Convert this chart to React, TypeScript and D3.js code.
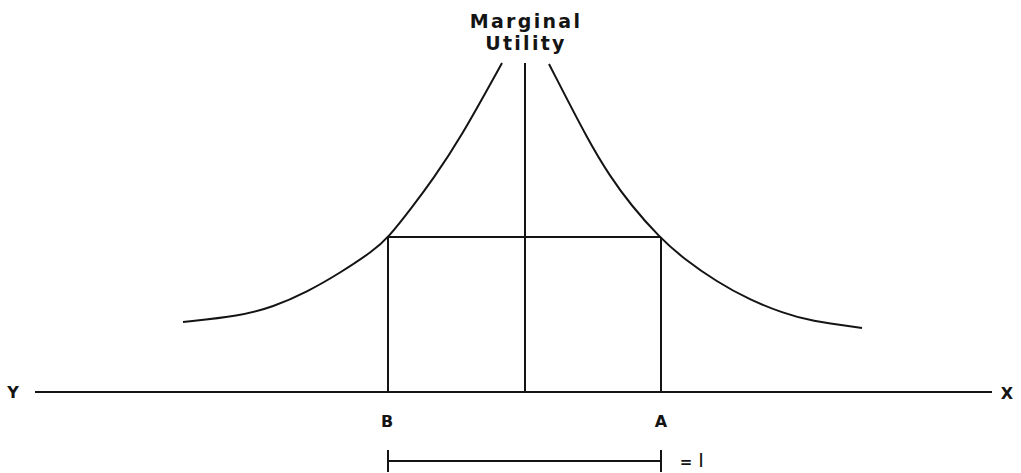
import React from "react";
import * as d3 from "d3";

// Data (x: quantity offset from centre, y: marginal utility)
const leftX = [-34.2, -28.5, -25.2, -21.8, -18.5, -15.2, -13.7, -11.2, -9.2, -6.5, -2.3];
const leftY = [7.0, 7.6, 8.5, 10.0, 11.9, 14.1, 15.4, 18.6, 21.3, 25.3, 32.9];
const rightX = [2.4, 6.5, 8.5, 10.5, 13.5, 15.8, 19.2, 22.5, 25.8, 28.5, 33.7];
const rightY = [32.8, 24.8, 21.6, 18.8, 15.4, 13.4, 11.0, 9.2, 7.9, 7.1, 6.4];
const pointB = -13.7;
const pointA = 13.6;
const levelU = 15.5;
const axisTop = 32.9;
const axisExtent = [-49, 46.7];
const axisLabels = ["Y", "X"];
const pointLabels = ["B", "A"];
const titleLines = ["Marginal", "Utility"];
const unitLabel = ["=", "I"];

export default function App() {
  const W = 1021, H = 473;
  const x = d3.scaleLinear().domain([-35, 35]).range([175, 875]);
  const y = d3.scaleLinear().domain([0, 35]).range([392, 42]);
  const line = d3
    .line<[number, number]>()
    .x((d) => x(d[0]))
    .y((d) => y(d[1]))
    .curve(d3.curveBasis);
  const leftPts = leftX.map((v, i) => [v, leftY[i]] as [number, number]);
  const rightPts = rightX.map((v, i) => [v, rightY[i]] as [number, number]);
  const stroke = "#141414";
  const sw = 2;
  const font = "'DejaVu Sans', sans-serif";
  const bracketY = 461;
  return (
    <svg
      width={W}
      height={H}
      style={{ position: "absolute", left: 0, top: 0, background: "#fff" }}
    >
      <g fill="none" stroke={stroke} strokeWidth={sw}>
        <path d={line(leftPts) || ""} />
        <path d={line(rightPts) || ""} />
        <line x1={x(axisExtent[0])} x2={x(axisExtent[1])} y1={y(0)} y2={y(0)} />
        <line x1={x(0)} x2={x(0)} y1={y(0)} y2={y(axisTop)} />
        <line x1={x(pointB)} x2={x(pointA)} y1={y(levelU)} y2={y(levelU)} />
        <line x1={x(pointB)} x2={x(pointB)} y1={y(levelU)} y2={y(0)} />
        <line x1={x(pointA)} x2={x(pointA)} y1={y(levelU)} y2={y(0)} />
        <line x1={x(pointB)} x2={x(pointA)} y1={bracketY} y2={bracketY} />
        <line x1={x(pointB)} x2={x(pointB)} y1={bracketY - 11} y2={bracketY + 11} />
        <line x1={x(pointA)} x2={x(pointA)} y1={bracketY - 11} y2={bracketY + 11} />
      </g>
      <g fill={stroke} fontFamily={font} fontWeight="bold">
        <text x={x(0) + 1} y={28} textAnchor="middle" fontSize={19} letterSpacing={2.3}>
          {titleLines[0]}
        </text>
        <text x={x(0) + 1} y={50} textAnchor="middle" fontSize={19} letterSpacing={2.3}>
          {titleLines[1]}
        </text>
        <text x={13} y={398} textAnchor="middle" fontSize={16}>
          {axisLabels[0]}
        </text>
        <text x={1007} y={399} textAnchor="middle" fontSize={16}>
          {axisLabels[1]}
        </text>
        <text x={x(pointB) - 1} y={427} textAnchor="middle" fontSize={16}>
          {pointLabels[0]}
        </text>
        <text x={x(pointA)} y={427} textAnchor="middle" fontSize={16}>
          {pointLabels[1]}
        </text>
        <text x={686} y={467} textAnchor="middle" fontSize={15}>
          {unitLabel[0]}
        </text>
        <text x={701} y={467} textAnchor="middle" fontSize={19} fontWeight="normal">
          {unitLabel[1]}
        </text>
      </g>
    </svg>
  );
}
